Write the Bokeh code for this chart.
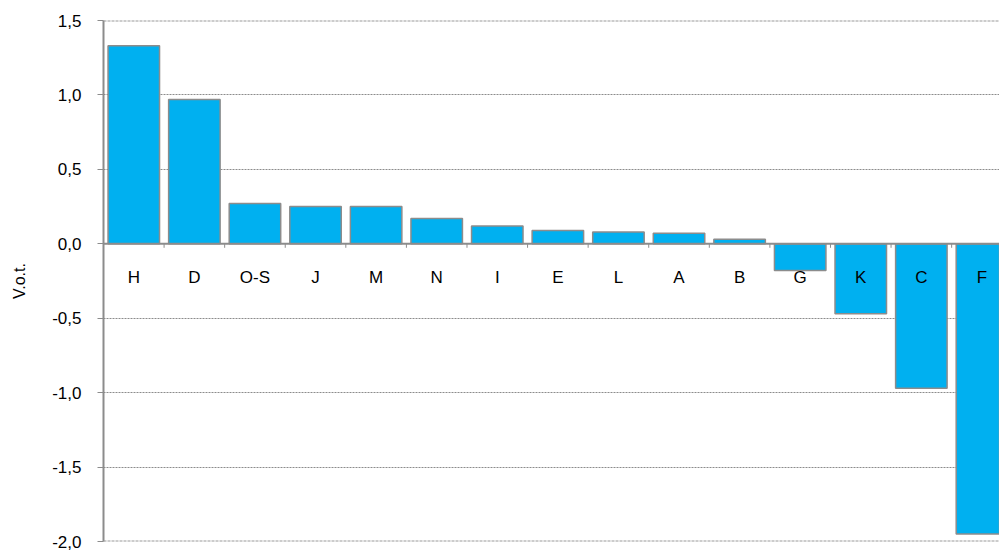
from bokeh.plotting import figure
from bokeh.models import ColumnDataSource, FixedTicker, CustomJSTickFormatter, Range1d, Span
from bokeh.embed import file_html
from bokeh.resources import INLINE
from bokeh.core.properties import value

categories = ["H", "D", "O-S", "J", "M", "N", "I", "E", "L", "A", "B", "G", "K", "C", "F"]
values = [1.33, 0.97, 0.27, 0.25, 0.25, 0.17, 0.12, 0.09, 0.08, 0.07, 0.03, -0.18, -0.47, -0.97, -1.95]
y_ticks = [-2.0, -1.5, -1.0, -0.5, 0.0, 0.5, 1.0, 1.5]

Y_MIN, Y_MAX = -2.0, 1.5
TOP_PAD, BOTTOM_PAD, HEIGHT = 20, 10, 551
px_per_unit = (HEIGHT - TOP_PAD - BOTTOM_PAD) / (Y_MAX - Y_MIN)
tick_len = 4 / px_per_unit

xs = [i + 0.5 for i in range(len(categories))]
src = ColumnDataSource(dict(x=xs, top=values, cat=categories, zero=[0] * len(values)))
bounds = list(range(len(categories) + 1))
tsrc = ColumnDataSource(dict(x=bounds, y0=[0] * len(bounds), y1=[-tick_len] * len(bounds)))

p = figure(width=999, height=HEIGHT, output_backend="svg", toolbar_location=None,
           x_range=Range1d(0, 14.79), y_range=Range1d(Y_MIN, Y_MAX),
           min_border_left=103, min_border_right=0, min_border_top=TOP_PAD,
           min_border_bottom=BOTTOM_PAD, x_axis_location=None)
p.outline_line_color = None
p.background_fill_color = "white"

# grid
p.xgrid.grid_line_color = None
p.ygrid.ticker = FixedTicker(ticks=y_ticks[1:-1])
p.ygrid.grid_line_color = "#8c8c8c"
p.ygrid.grid_line_dash = "2 1"
p.ygrid.grid_line_width = 1

# top and bottom border lines
for loc in (Y_MIN, Y_MAX):
    p.add_layout(Span(location=loc, dimension="width", line_color="#999999",
                      line_width=2, line_dash="3 1"))

# y axis
ya = p.yaxis[0]
ya.ticker = FixedTicker(ticks=y_ticks)
ya.formatter = CustomJSTickFormatter(code="return tick.toFixed(1).replace('.', ',');")
ya.axis_line_color = "#8c8c8c"
ya.axis_line_width = 2
ya.major_tick_line_color = "#8c8c8c"
ya.major_tick_out = 6
ya.major_tick_in = 0
ya.minor_tick_line_color = None
ya.major_label_text_font = "Liberation Sans"
ya.major_label_text_font_size = "17px"
ya.major_label_text_color = "black"
ya.major_label_standoff = 16
ya.axis_label = "V.o.t."
ya.axis_label_text_font = "Liberation Sans"
ya.axis_label_text_font_style = "normal"
ya.axis_label_text_font_size = "16px"
ya.axis_label_text_color = "black"
ya.axis_label_standoff = 21

# bars
p.vbar(x="x", top="top", bottom=0, width=0.85, source=src,
       fill_color="#00b0f0", line_color="#8c8c8c", line_width=1.5)

# zero line with ticks at category boundaries
p.add_layout(Span(location=0, dimension="width", line_color="#8c8c8c", line_width=2))
p.segment(x0="x", y0="y0", x1="x", y1="y1", source=tsrc, line_color="#8c8c8c", line_width=1)

# category labels
p.text(x="x", y="zero", text="cat", source=src, text_align="center", text_baseline="middle",
       y_offset=34, text_font=value("Liberation Sans"), text_font_size="17px", text_color="black")

open("out.html", "w").write(file_html(p, INLINE))
